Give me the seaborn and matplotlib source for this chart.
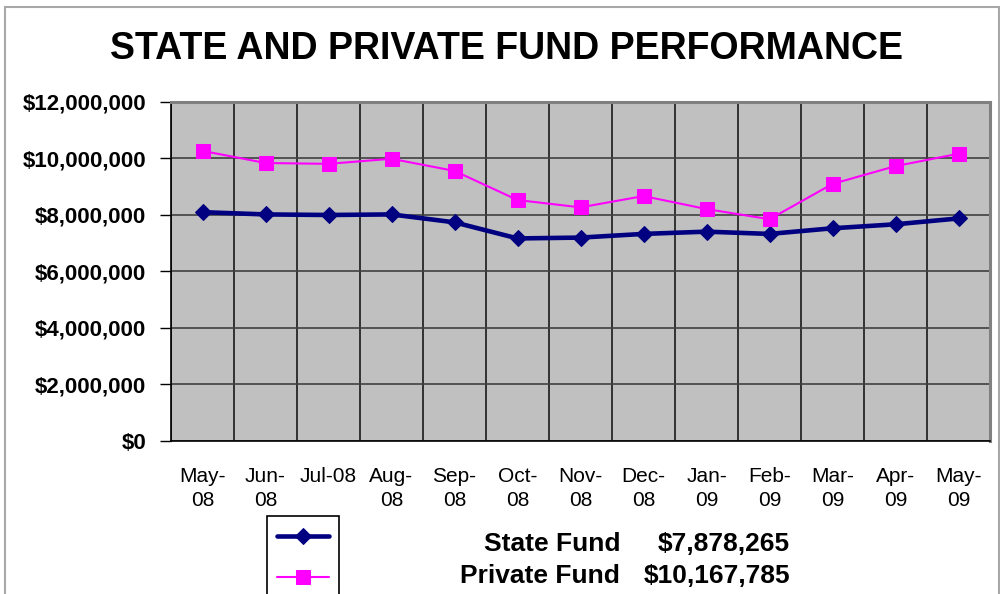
import matplotlib
matplotlib.use("Agg")
import matplotlib.pyplot as plt
import matplotlib.ticker as mticker
from matplotlib.patches import Rectangle
import seaborn as sns
import pandas as pd

# fund values per month (dollars)
months = ["May-\n08", "Jun-\n08", "Jul-08\n", "Aug-\n08", "Sep-\n08", "Oct-\n08", "Nov-\n08",
          "Dec-\n08", "Jan-\n09", "Feb-\n09", "Mar-\n09", "Apr-\n09", "May-\n09"]
state_fund = [8100000, 8020000, 8000000, 8020000, 7740000, 7170000, 7200000,
              7330000, 7410000, 7330000, 7530000, 7670000, 7878265]
private_fund = [10270000, 9840000, 9810000, 9990000, 9560000, 8530000, 8270000,
                8670000, 8210000, 7850000, 9100000, 9730000, 10167785]
totals = {"State Fund": "$7,878,265", "Private Fund": "$10,167,785"}

df = pd.DataFrame({"idx": range(len(months)), "State Fund": state_fund, "Private Fund": private_fund})

sns.set_style("white")
plt.rcParams["font.family"] = ["Liberation Sans", "DejaVu Sans"]
plt.rcParams["text.color"] = "black"
plt.rcParams["xtick.color"] = "black"
plt.rcParams["ytick.color"] = "black"

fig = plt.figure(figsize=(10, 5.94), dpi=100)
ax = fig.add_axes([0.171, 0.2576, 0.819, 0.5707])
ax.set_facecolor("#C0C0C0")

sns.lineplot(data=df, x="idx", y="State Fund", ax=ax, color="#000080", lw=3.3,
             marker="D", markersize=8, markeredgecolor="#000080", label="State Fund")
sns.lineplot(data=df, x="idx", y="Private Fund", ax=ax, color="#FF00FF", lw=1.5,
             marker="s", markersize=10, markeredgecolor="#FF00FF", label="Private Fund")

ax.set_xlim(-0.5, len(months) - 0.5)
ax.set_ylim(0, 12000000)
ax.set_xlabel("")
ax.set_ylabel("")

ax.set_xticks(range(len(months)))
ax.set_xticklabels(months, fontsize=15, linespacing=1.3, color="black")
ax.set_xticks([i - 0.5 for i in range(len(months) + 1)], minor=True)
ax.tick_params(axis="x", which="major", length=0, pad=19)
ax.tick_params(axis="x", which="minor", length=6, width=1, color="black", direction="out")

ax.set_yticks(range(0, 12000001, 2000000))
ax.yaxis.set_major_formatter(mticker.FuncFormatter(lambda v, p: f"${v:,.0f}"))
ax.tick_params(axis="y", length=8, width=1, color="black", direction="out", pad=10, left=True)
for t in ax.get_yticklabels():
    t.set_fontsize(16)
    t.set_fontweight("bold")
    t.set_color("black")

ax.grid(axis="y", which="major", color="#404040", lw=1.2)
ax.grid(axis="x", which="minor", color="#1a1a1a", lw=1.2)
ax.grid(axis="x", which="major", visible=False)

for side in ["top", "right"]:
    ax.spines[side].set_color("#808080")
    ax.spines[side].set_linewidth(2.2)
for side in ["left", "bottom"]:
    ax.spines[side].set_color("black")
    ax.spines[side].set_linewidth(1.2)

ax.get_legend().remove()
handles, _ = ax.get_legend_handles_labels()
leg = fig.legend(handles, ["", ""], loc="upper left", bbox_to_anchor=(0.267, 1 - 516 / 594),
                 borderaxespad=0, prop={"size": 18}, handlelength=2.1, handletextpad=0.0,
                 borderpad=0.38, labelspacing=0.7, fancybox=False, framealpha=1,
                 edgecolor="black")
leg.get_frame().set_linewidth(1.2)

fig.text(0.620, 1 - 544 / 594, "State Fund", ha="right", va="center", fontsize=19, fontweight="bold")
fig.text(0.790, 1 - 544 / 594, totals["State Fund"], ha="right", va="center", fontsize=19, fontweight="bold")
fig.text(0.620, 1 - 576 / 594, "Private Fund", ha="right", va="center", fontsize=19, fontweight="bold")
fig.text(0.790, 1 - 576 / 594, totals["Private Fund"], ha="right", va="center", fontsize=19, fontweight="bold")

fig.text(0.506, 1 - 49 / 594, "STATE AND PRIVATE FUND PERFORMANCE", ha="center", va="center",
         fontsize=27, fontweight="bold")

fig.patches.append(Rectangle((0.005, -0.1), 0.994, 1.088, transform=fig.transFigure,
                             fill=False, edgecolor="#A8A8A8", lw=1.5))

fig.savefig("out.png", dpi=100)
